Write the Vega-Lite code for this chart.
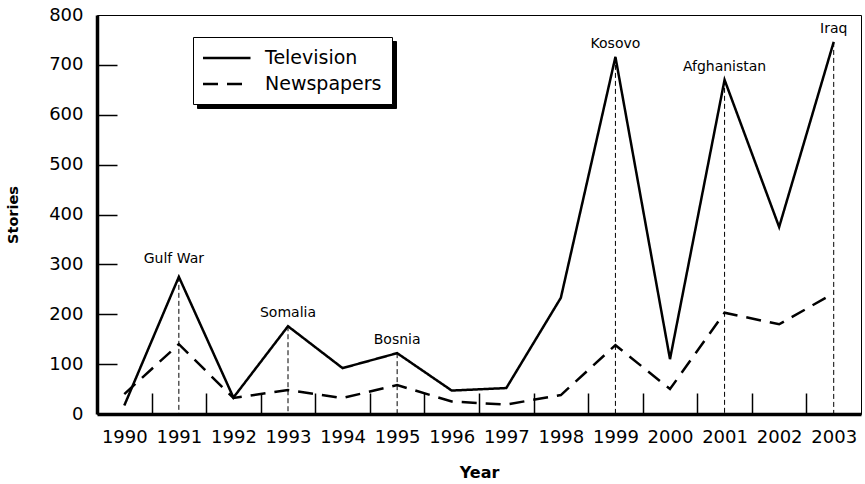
{
  "$schema": "https://vega.github.io/schema/vega-lite/v6.json",
  "width": 764,
  "height": 399,
  "autosize": {"type": "none"},
  "padding": {"left": 97, "top": 15, "right": 4, "bottom": 70},
  "background": "white",
  "config": {
    "font": "DejaVu Sans",
    "view": {"stroke": "black", "strokeWidth": 1},
    "axis": {"domainColor": "black", "domainWidth": 3.5, "tickColor": "black", "tickWidth": 1.5, "labelColor": "black", "titleColor": "black", "grid": false}
  },
  "resolve": {"axis": {"x": "independent", "y": "independent"}},
  "datasets": {
    "series": [
      {"year": 1990, "media": "Television", "stories": 17},
      {"year": 1991, "media": "Television", "stories": 275},
      {"year": 1992, "media": "Television", "stories": 33},
      {"year": 1993, "media": "Television", "stories": 176},
      {"year": 1994, "media": "Television", "stories": 92},
      {"year": 1995, "media": "Television", "stories": 122},
      {"year": 1996, "media": "Television", "stories": 47},
      {"year": 1997, "media": "Television", "stories": 52},
      {"year": 1998, "media": "Television", "stories": 233},
      {"year": 1999, "media": "Television", "stories": 716},
      {"year": 2000, "media": "Television", "stories": 110},
      {"year": 2001, "media": "Television", "stories": 670},
      {"year": 2002, "media": "Television", "stories": 375},
      {"year": 2003, "media": "Television", "stories": 746},
      {"year": 1990, "media": "Newspapers", "stories": 40},
      {"year": 1991, "media": "Newspapers", "stories": 140},
      {"year": 1992, "media": "Newspapers", "stories": 32},
      {"year": 1993, "media": "Newspapers", "stories": 48},
      {"year": 1994, "media": "Newspapers", "stories": 32},
      {"year": 1995, "media": "Newspapers", "stories": 58},
      {"year": 1996, "media": "Newspapers", "stories": 25},
      {"year": 1997, "media": "Newspapers", "stories": 19},
      {"year": 1998, "media": "Newspapers", "stories": 38},
      {"year": 1999, "media": "Newspapers", "stories": 138},
      {"year": 2000, "media": "Newspapers", "stories": 50},
      {"year": 2001, "media": "Newspapers", "stories": 203},
      {"year": 2002, "media": "Newspapers", "stories": 180},
      {"year": 2003, "media": "Newspapers", "stories": 242}
    ],
    "events": [
      {"year": 1991, "event": "Gulf War", "stories": 275},
      {"year": 1993, "event": "Somalia", "stories": 176},
      {"year": 1995, "event": "Bosnia", "stories": 122},
      {"year": 1999, "event": "Kosovo", "stories": 716},
      {"year": 2001, "event": "Afghanistan", "stories": 670},
      {"year": 2003, "event": "Iraq", "stories": 746}
    ]
  },
  "layer": [
    {
      "data": {"name": "events"},
      "mark": {"type": "rule", "color": "black", "strokeWidth": 1, "strokeDash": [5, 3]},
      "encoding": {
        "x": {
          "field": "year", "type": "quantitative",
          "axis": {
            "orient": "bottom", "offset": -21, "title": null, "domain": false, "labels": false,
            "ticks": true, "tickSize": 21,
            "values": [1990.5, 1991.5, 1992.5, 1993.5, 1994.5, 1995.5, 1996.5, 1997.5, 1998.5, 1999.5, 2000.5, 2001.5, 2002.5]
          }
        },
        "y": {"field": "stories", "type": "quantitative", "axis": null},
        "y2": {"datum": 0}
      }
    },
    {
      "data": {"name": "series"},
      "mark": {"type": "line", "strokeWidth": 2.5, "opacity": 0},
      "encoding": {
        "x": {"field": "year", "type": "quantitative", "axis": null},
        "y": {
          "field": "stories", "type": "quantitative",
          "axis": {
            "orient": "left", "offset": -20, "title": null, "domain": false, "labels": false,
            "ticks": true, "tickSize": 20,
            "values": [100, 200, 300, 400, 500, 600, 700]
          }
        },
        "color": {
          "field": "media", "type": "nominal",
          "scale": {"domain": ["Newspapers", "Television"], "range": ["black", "black"]},
          "legend": {
            "title": null, "orient": "none", "legendX": 100, "legendY": 26, "zindex": 0,
            "direction": "vertical",
            "fillColor": "black", "strokeColor": "black", "padding": 10,
            "symbolType": "M0,0H5", "symbolSize": 361, "symbolStrokeWidth": 2.5, "symbolOffset": -11,
            "labelFontSize": 19, "labelOffset": 51, "labelColor": "black", "rowPadding": 5
          }
        }
      }
    },
    {
      "data": {"name": "series"},
      "mark": {"type": "line", "color": "black", "strokeWidth": 2.5},
      "encoding": {
        "x": {
          "field": "year", "type": "quantitative",
          "scale": {"domain": [1989.5, 2003.5], "nice": false, "zero": false},
          "axis": {
            "orient": "bottom",
            "title": "Year", "titleFontSize": 16, "titleFontWeight": "bold", "titlePadding": 18,
            "values": [1990, 1991, 1992, 1993, 1994, 1995, 1996, 1997, 1998, 1999, 2000, 2001, 2002, 2003],
            "format": "d",
            "labelOverlap": false, "labelFlush": false,
            "labelFontSize": 18, "labelPadding": 14,
            "ticks": false, "tickSize": 0
          }
        },
        "y": {
          "field": "stories", "type": "quantitative",
          "scale": {"domain": [0, 800], "nice": false},
          "axis": {
            "orient": "left",
            "title": "Stories", "titleFontSize": 14.5, "titleFontWeight": "bold", "titlePadding": 28,
            "values": [0, 100, 200, 300, 400, 500, 600, 700, 800],
            "labelFontSize": 18, "labelPadding": 14, "ticks": false, "tickSize": 0
          }
        },
        "strokeDash": {
          "field": "media", "type": "nominal",
          "scale": {"domain": ["Television", "Newspapers"], "range": [[1, 0], [15, 9]]},
          "legend": {
            "title": null, "orient": "none", "legendX": 96, "legendY": 22, "zindex": 1,
            "direction": "vertical",
            "fillColor": "white", "strokeColor": "black", "padding": 10,
            "symbolType": "M0,0H5", "symbolSize": 361, "symbolStrokeWidth": 2.5, "symbolStrokeColor": "black", "symbolOffset": -11,
            "labelFontSize": 19, "labelOffset": 51, "labelColor": "black", "rowPadding": 5
          }
        }
      }
    },
    {
      "data": {"name": "events"},
      "transform": [{"filter": "datum.event != 'Gulf War'"}],
      "mark": {"type": "text", "fontSize": 14, "color": "black", "baseline": "alphabetic", "dy": -9},
      "encoding": {
        "x": {"field": "year", "type": "quantitative", "axis": null},
        "y": {"field": "stories", "type": "quantitative", "axis": null},
        "text": {"field": "event"}
      }
    },
    {
      "data": {"name": "events"},
      "transform": [{"filter": "datum.event == 'Gulf War'"}],
      "mark": {"type": "text", "fontSize": 14, "color": "black", "baseline": "alphabetic", "dy": -14, "dx": -5},
      "encoding": {
        "x": {"field": "year", "type": "quantitative", "axis": null},
        "y": {"field": "stories", "type": "quantitative", "axis": null},
        "text": {"field": "event"}
      }
    }
  ]
}
